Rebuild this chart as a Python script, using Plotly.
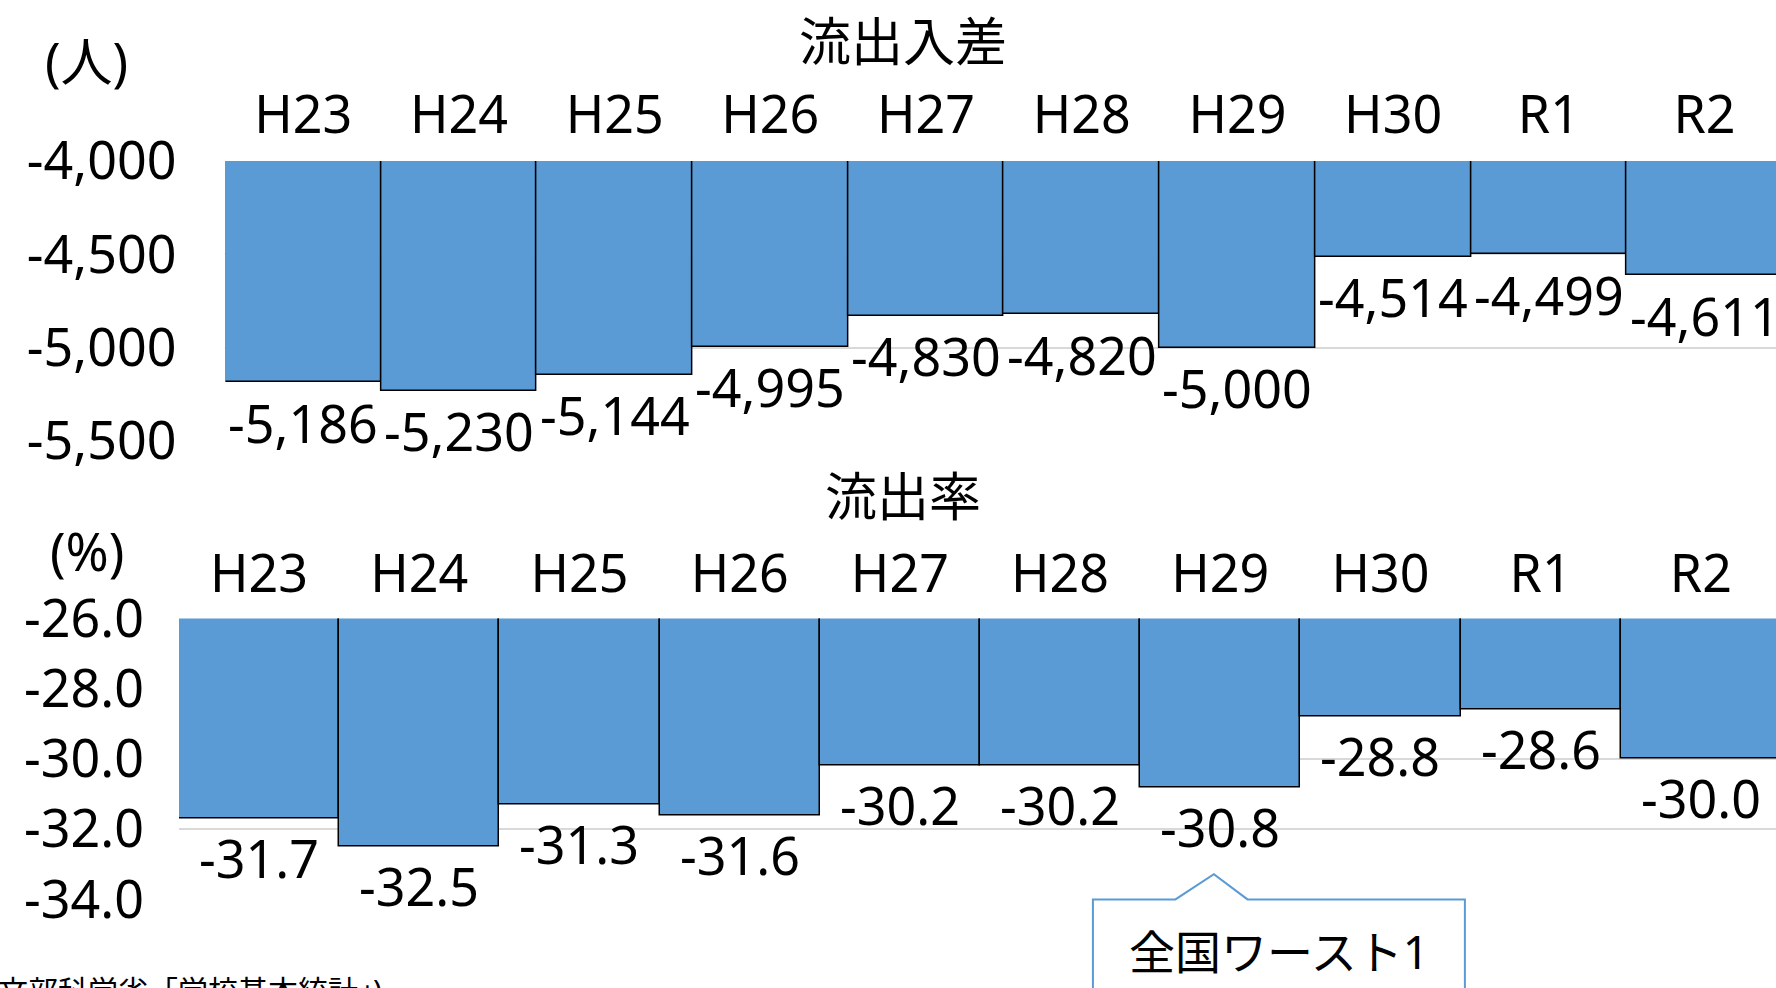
import plotly.graph_objects as go

# 年度
years = ["H23", "H24", "H25", "H26", "H27", "H28", "H29", "H30", "R1", "R2"]
# 流出入差（人）
net_flow = [-5186, -5230, -5144, -4995, -4830, -4820, -5000, -4514, -4499, -4611]
# 流出率（%）
outflow_rate = [-31.7, -32.5, -31.3, -31.6, -30.2, -30.2, -30.8, -28.8, -28.6, -30.0]

flow_ticks = [-4000, -4500, -5000, -5500]
rate_ticks = [-26.0, -28.0, -30.0, -32.0, -34.0]

W, H = 1776, 988
FONT = "Noto Sans, Noto Sans CJK JP, sans-serif"
BAR_COLOR = "#5B9BD5"
GRID = "#D9D9D9"
FS = 52

# subplot geometry (paper fractions)
top_x0, top_xr = 225.4 / W, 9.459
bot_x0, bot_xr = 179.0 / W, 9.469
top_dom = [1 - 441.0 / H, 1 - 161.0 / H]
bot_dom = [1 - 899.4 / H, 1 - 618.5 / H]

fig = go.Figure()
fig.add_trace(go.Bar(x=years, y=net_flow, xaxis="x", yaxis="y",
                     marker=dict(color=BAR_COLOR, line=dict(color="black", width=1.5)),
                     hoverinfo="x+y"))
fig.add_trace(go.Bar(x=years, y=outflow_rate, xaxis="x2", yaxis="y2",
                     marker=dict(color=BAR_COLOR, line=dict(color="black", width=1.5)),
                     hoverinfo="x+y"))

axis_font = dict(family=FONT, size=FS, color="black")
common = dict(automargin=False, fixedrange=True, showline=False, ticks="",
              tickfont=axis_font)
fig.update_layout(
    template="none",
    width=W, height=H,
    margin=dict(l=0, r=0, t=0, b=0, autoexpand=False),
    paper_bgcolor="white", plot_bgcolor="white",
    showlegend=False, bargap=0,
    font=dict(family=FONT, color="black"),
    xaxis=dict(domain=[top_x0, 1], range=[-0.5, top_xr], side="top", anchor="y",
               showgrid=False, zeroline=False, ticklabelstandoff=17, **common),
    yaxis=dict(domain=top_dom, range=[-5500, -4000], anchor="x",
               tickvals=flow_ticks, ticktext=[f"{v:,}" for v in flow_ticks],
               showgrid=True, gridcolor=GRID, gridwidth=1.5, zeroline=False,
               ticklabelstandoff=48, **common),
    xaxis2=dict(domain=[bot_x0, 1], range=[-0.5, bot_xr], side="top", anchor="y2",
                showgrid=False, zeroline=False, ticklabelstandoff=15, **common),
    yaxis2=dict(domain=bot_dom, range=[-34, -26], anchor="x2",
                tickvals=rate_ticks, ticktext=[f"{v:.1f}" for v in rate_ticks],
                showgrid=True, gridcolor=GRID, gridwidth=1.5, zeroline=False,
                ticklabelstandoff=34, **common),
)

def text_ann(x, y, text, size=FS, xanchor="center", **kw):
    return dict(x=x, y=y, text=text, showarrow=False, xanchor=xanchor,
                yanchor="middle", font=dict(family=FONT, size=size, color="black"), **kw)

ann = []
# value labels under each bar end
for yr, v in zip(years, net_flow):
    ann.append(text_ann(yr, v, f"{v:,}", xref="x", yref="y", yshift=-40))
for yr, v in zip(years, outflow_rate):
    ann.append(text_ann(yr, v, f"{v:.1f}", xref="x2", yref="y2", yshift=-39))

# titles, units and source
ann += [
    text_ann(903 / W, 1 - 40 / H, "流出入差", xref="paper", yref="paper"),
    text_ann(903 / W, 1 - 496 / H, "流出率", xref="paper", yref="paper"),
    text_ann(86 / W, 1 - 60 / H, "(人)", xref="paper", yref="paper"),
    text_ann(87 / W, 1 - 550 / H, "(%)", xref="paper", yref="paper"),
    text_ann(-4 / W, 1 - 990 / H, "文部科学省「学校基本統計」)", size=30,
             xanchor="left", xref="paper", yref="paper"),
]

# callout for H29 rate
def bx(i):
    return bot_x0 + (1 - bot_x0) * (i + 0.5) / (bot_xr + 0.5)

def by(v):
    return bot_dom[0] + (bot_dom[1] - bot_dom[0]) * (v + 34) / 8

idx = years.index("H29")
tip_x = bx(idx - 0.04)
left, right = bx(idx - 0.795), bx(idx + 1.527)
b1, b2 = bx(idx - 0.28), bx(idx + 0.17)
top_y, tip_y = by(-34), by(-33.28)
path = (f"M {left},-0.2 L {left},{top_y} L {b1},{top_y} L {tip_x},{tip_y} "
        f"L {b2},{top_y} L {right},{top_y} L {right},-0.2")
fig.add_shape(type="path", path=path, xref="paper", yref="paper",
              line=dict(color=BAR_COLOR, width=2), fillcolor="white", layer="above")
ann.append(text_ann((left + right) / 2, 1 - 951 / H, "全国ワースト1", size=46,
                    xref="paper", yref="paper"))

fig.update_layout(annotations=ann)
fig.write_html("out.html", config={"displayModeBar": False})
